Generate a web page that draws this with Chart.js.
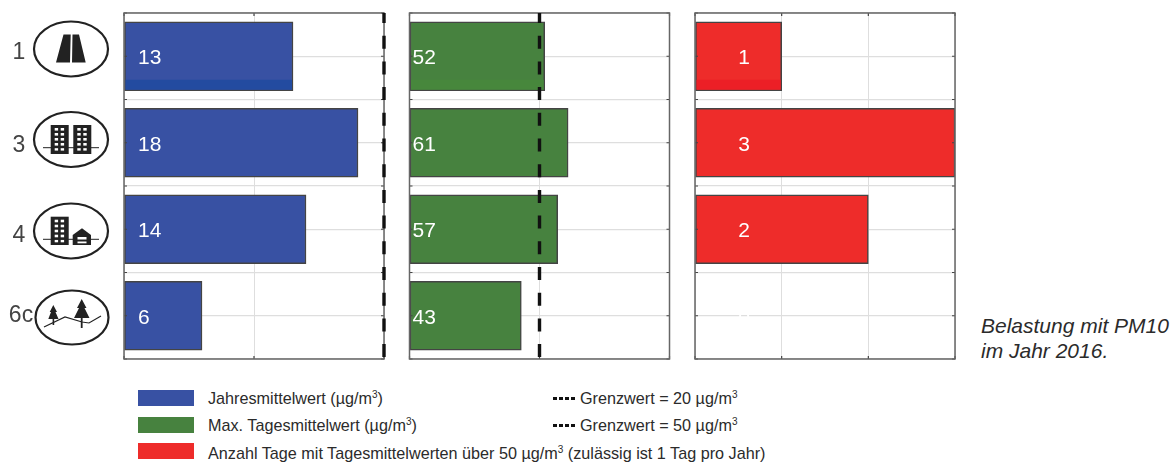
<!DOCTYPE html>
<html lang="de">
<head>
<meta charset="utf-8">
<title>Belastung mit PM10 im Jahr 2016</title>
<script src="https://cdn.jsdelivr.net/npm/chart.js@4"></script>
<style>
  html, body { margin: 0; background: #fff; }
  #page { position: relative; width: 1176px; height: 462px; overflow: hidden; font-family: "Liberation Sans", Arial, sans-serif; color: #2b2b2b; }
  canvas { position: absolute; top: 0; }
  #icons { position: absolute; left: 0; top: 0; }
  .swatch { position: absolute; left: 138px; width: 56px; height: 16px; }
  .key { position: absolute; font-size: 16.2px; line-height: 16px; white-space: nowrap; }
  .key sup { font-size: 10px; line-height: 0; }
  .dots { position: absolute; left: 553px; width: 22px; height: 3px; background: repeating-linear-gradient(90deg, #111 0 4px, transparent 4px 6px); }
  #caption { position: absolute; left: 981px; top: 313px; font-size: 21px; line-height: 25px; font-style: italic; white-space: nowrap; }
</style>
</head>
<body>
<div id="page">
  <canvas id="annualChart" width="400" height="375" style="left:0"></canvas>
  <canvas id="dailyChart" width="285" height="375" style="left:400px"></canvas>
  <canvas id="daysChart" width="285" height="375" style="left:685px"></canvas>

  <!-- site type pictograms next to the row labels -->
  <svg id="icons" width="124" height="375" fill="#222" stroke="none">
    <g fill="#fff" stroke="#222" stroke-width="2.2">
      <ellipse cx="71" cy="49" rx="37" ry="27.5"/>
      <ellipse cx="71" cy="139.5" rx="37" ry="27.5"/>
      <ellipse cx="71" cy="231" rx="37" ry="27.5"/>
      <ellipse cx="72" cy="317.5" rx="36.5" ry="27"/>
    </g>
    <path d="M63.5 34.5H70.7L70 62.5H56ZM72.5 34.5H79L85.7 62.5H72Z"/>
    <g id="towers"></g>
    <path d="M43 147.7H99M43 239.3H99" stroke="#222" stroke-width="1" fill="none"/>
    <path d="M72.7 245V235L82 228.3L91 235V245Z"/>
    <rect x="77.5" y="237" width="9" height="2.5" fill="#fff"/>
    <rect x="77.5" y="241.5" width="9" height="1.8" fill="#fff"/>
    <path d="M44 327L65 317L82 322L89 323L101 316" stroke="#222" stroke-width="1.2" fill="none"/>
    <path d="M53.3 305L57 312H55.5L58.5 319H54.2V325H52.6V319H48.3L51 312H49.7Z"/>
    <path d="M81.7 299L86.5 308H84.5L89.5 318H82.6V328H80.8V318H74L79 308H77Z"/>
  </svg>

  <div class="swatch" style="top:390px;background:#3851a3"></div>
  <div class="swatch" style="top:417px;background:#47823f"></div>
  <div class="swatch" style="top:443px;background:#ee2c2a"></div>
  <div class="key" style="left:208px;top:390px">Jahresmittelwert (µg/m<sup>3</sup>)</div>
  <div class="key" style="left:208px;top:417px">Max. Tagesmittelwert (µg/m<sup>3</sup>)</div>
  <div class="key" style="left:208px;top:445px">Anzahl Tage mit Tagesmittelwerten über 50 µg/m<sup>3</sup> (zulässig ist 1 Tag pro Jahr)</div>
  <div class="dots" style="top:397px"></div>
  <div class="dots" style="top:424px"></div>
  <div class="key" style="left:580px;top:390px">Grenzwert = 20 µg/m<sup>3</sup></div>
  <div class="key" style="left:580px;top:417px">Grenzwert = 50 µg/m<sup>3</sup></div>
  <div id="caption">Belastung mit PM10<br>im Jahr 2016.</div>
</div>

<script>
// PM10 load per site class, 2016: three bar panels sharing the same rows

const categories = ['1', '3', '4', '6c'];
const annualMean = [13, 18, 14, 6];
const maxDailyMean = [52, 61, 57, 43];
const daysOverLimit = [1, 3, 2, 0];
const annualLimit = 20;
const dailyLimit = 50;
const labelNudge = [-4, 3, 6, 0]; // row labels sit a little off the row centre

const FRAME = '#666';
const GRID = '#dedede';

// window grid on the tower blocks
const towers = [[50.7, 125, 5], [73.3, 125, 5], [50.7, 216.7, 5]];
const towerGroup = document.getElementById('towers');
let towerMarkup = '';
for (const [tx, ty, rows] of towers) {
  towerMarkup += `<rect x="${tx}" y="${ty}" width="18" height="${ty > 200 ? 28.3 : 29}"/>`;
  for (let r = 0; r < rows; r++) {
    for (let c = 0; c < 2; c++) {
      towerMarkup += `<rect x="${tx + 4 + c * 6}" y="${ty + 3 + r * 5}" width="3.4" height="2.6" fill="#fff"/>`;
    }
  }
}
towerGroup.innerHTML = towerMarkup;

// Frame, inward ticks, the darker strip on the lowest part of the first bar
const framePlugin = {
  id: 'frame',
  afterDatasetDraw(chart, args) {
    if (args.index !== 0) return;
    const { ctx, chartArea: a, scales: { x, y } } = chart;
    const bar = chart.getDatasetMeta(0).data[0];
    const stripColor = chart.options.plugins.frame.stripColor;
    ctx.save();
    ctx.fillStyle = stripColor;
    ctx.fillRect(bar.base + 1, bar.y + bar.height / 2 - 11, bar.x - bar.base - 2, 10);
    ctx.strokeStyle = '#444';
    ctx.lineWidth = 1.2;
    ctx.beginPath();
    x.ticks.forEach(t => {
      const px = x.getPixelForValue(t.value);
      ctx.moveTo(px, a.top); ctx.lineTo(px, a.top + 3);
      ctx.moveTo(px, a.bottom); ctx.lineTo(px, a.bottom - 3);
    });
    y.ticks.forEach(t => {
      const py = y.getPixelForValue(t.value);
      ctx.moveTo(a.left, py); ctx.lineTo(a.left + 3, py);
      ctx.moveTo(a.right, py); ctx.lineTo(a.right - 3, py);
    });
    ctx.stroke();
    ctx.strokeStyle = FRAME;
    ctx.lineWidth = 1.5;
    ctx.strokeRect(a.left, a.top, a.right - a.left, a.bottom - a.top);
    ctx.restore();
  }
};

// White value labels inside the bars, plus the row labels on the first panel
const labelPlugin = {
  id: 'labels',
  afterDraw(chart) {
    const { ctx, chartArea: a, scales: { y } } = chart;
    const opts = chart.options.plugins.labels;
    ctx.save();
    ctx.textBaseline = 'middle';
    ctx.font = '21px "Liberation Sans", Arial, sans-serif';
    ctx.fillStyle = '#fff';
    ctx.textAlign = opts.align;
    chart.data.datasets[0].data.forEach(p => {
      ctx.fillText(String(p.x), a.left + opts.offset, y.getPixelForValue(p.y) + 2);
    });
    if (opts.rowLabels) {
      ctx.font = '23px "Liberation Sans", Arial, sans-serif';
      ctx.fillStyle = '#444';
      ctx.textAlign = 'center';
      categories.forEach((c, i) => {
        const cx = c.length > 1 ? 21 : 19;
        ctx.fillText(c, cx, y.getPixelForValue(i) + labelNudge[i]);
      });
    }
    ctx.restore();
  }
};

function makePanel(id, values, opts) {
  const datasets = [{
    type: 'bar',
    data: values.map((v, i) => ({ x: v, y: i })),
    backgroundColor: opts.color,
    borderColor: '#444',
    borderWidth: 1.5,
    borderSkipped: false,
    barThickness: 69,
    order: 1
  }];
  if (opts.limit !== undefined) {
    datasets.push({
      type: 'line',
      indexAxis: 'y',
      data: [{ x: opts.limit, y: -0.5 }, { x: opts.limit, y: 3.5 }],
      borderColor: '#111',
      borderWidth: 3.4,
      borderDash: [13, 12.7],
      borderDashOffset: 3,
      pointRadius: 0,
      clip: false,
      order: 0
    });
  }
  return new Chart(document.getElementById(id), {
    type: 'bar',
    data: { datasets },
    plugins: [framePlugin, labelPlugin],
    options: {
      indexAxis: 'y',
      responsive: false,
      animation: false,
      layout: { padding: opts.padding },
      scales: {
        x: {
          type: 'linear',
          min: 0,
          max: opts.max,
          ticks: { display: false, stepSize: opts.step },
          grid: { color: GRID, lineWidth: 1, drawTicks: false },
          border: { display: false }
        },
        y: {
          type: 'linear',
          reverse: true,
          offset: false,
          min: -0.5,
          max: 3.5,
          ticks: { display: false, stepSize: 0.5 },
          grid: { offset: false, color: GRID, lineWidth: 1.2, drawTicks: false },
          border: { display: false }
        }
      },
      plugins: {
        legend: { display: false },
        tooltip: { enabled: false },
        frame: { stripColor: opts.strip },
        labels: { align: opts.align, offset: opts.offset, rowLabels: opts.rowLabels }
      }
    }
  });
}

makePanel('annualChart', annualMean, {
  color: '#3851a3', strip: '#234ba0', limit: annualLimit, max: 20, step: 10,
  padding: { left: 124, right: 16, top: 13, bottom: 16 },
  align: 'left', offset: 14, rowLabels: true
});
makePanel('dailyChart', maxDailyMean, {
  color: '#47823f', strip: '#47873c', limit: dailyLimit, max: 100, step: 50,
  padding: { left: 9.5, right: 15.5, top: 13, bottom: 16 },
  align: 'left', offset: 3
});
makePanel('daysChart', daysOverLimit, {
  color: '#ee2c2a', strip: '#ec1f26', max: 3, step: 1,
  padding: { left: 10, right: 15, top: 13, bottom: 16 },
  align: 'center', offset: 49
});
</script>
</body>
</html>
